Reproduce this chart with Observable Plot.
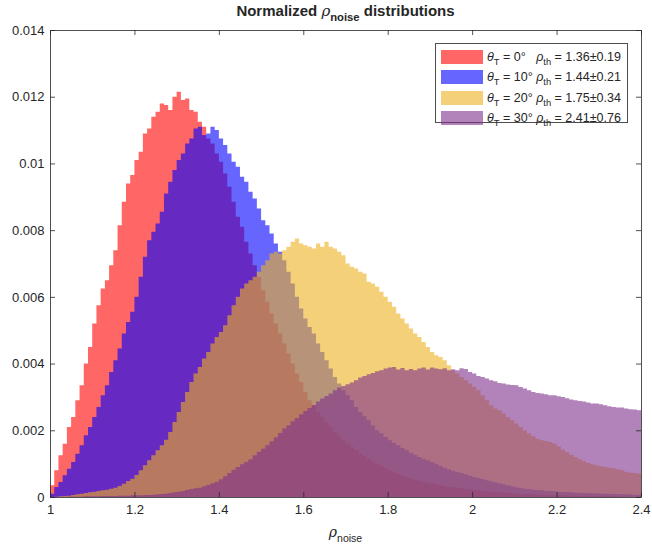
<!DOCTYPE html>
<html><head><meta charset="utf-8">
<script src="https://cdn.jsdelivr.net/npm/d3@7"></script>
<script src="https://cdn.jsdelivr.net/npm/@observablehq/plot@0.6"></script>
<style>
body{margin:0;background:#fff;font-family:"Liberation Sans",Arial,Helvetica,sans-serif;color:#262626;}
#wrap{position:relative;width:652px;height:547px;overflow:hidden;}
#title{position:relative;height:22px;}
#title span.t{position:absolute;left:50px;width:591px;top:2px;text-align:center;font-weight:bold;font-size:15px;white-space:nowrap;}
.gr{font-style:italic;font-weight:normal;font-family:"DejaVu Serif","Liberation Serif",serif;}
#legend .gr{font-family:"Liberation Sans",Arial,sans-serif;}
sub{font-size:75%;vertical-align:-0.45em;line-height:0;}
#legend{position:absolute;left:435px;top:43px;width:193px;height:80px;border:1px solid #4d4d4d;background:#fff;box-sizing:border-box;font-size:12.5px;}
#legend .row{position:absolute;left:5px;height:14px;white-space:nowrap;}
#legend .sw{position:absolute;left:0;top:0;width:42px;height:14px;}
#legend .tx{position:absolute;left:46px;top:-2px;line-height:18px;white-space:pre;}
#xlabel{position:absolute;left:50px;width:591px;top:524px;text-align:center;font-size:14px;}
</style></head>
<body>
<div id="wrap">
  <div id="title"><span class="t">Normalized <span class="gr">ρ</span><sub>noise</sub> distributions</span></div>
  <div id="chart"></div>
  <div id="legend"></div>
  <div id="xlabel"><span class="gr">ρ</span><sub>noise</sub></div>
</div>
<script>
// Histogram bins: left edge 1.00, width 0.01; values in units of 1e-3 (normalized counts)
const binStart = 1.00;
const binWidth = 0.01;
const valueUnit = 1e-3;

const theta0 = [0.35,0.8,1.25,1.6,2.1,2.4,2.9,3.35,4.0,4.5,
5.2,5.75,6.25,6.5,6.95,7.4,8.15,8.85,9.4,9.65,
10.1,10.35,10.9,11.05,11.4,11.55,11.8,11.75,11.6,12.0,
12.15,11.9,11.95,11.6,11.55,11.25,11.1,10.75,10.6,10.3,
10.05,9.7,9.3,8.85,8.4,8.1,7.65,7.3,6.95,6.6,
6.2,5.85,5.5,5.2,4.9,4.6,4.3,4.0,3.7,3.45,
3.15,2.9,2.75,2.55,2.4,2.25,2.1,1.95,1.85,1.72,
1.6,1.5,1.4,1.3,1.22,1.14,1.06,0.98,0.92,0.86,
0.8,0.74,0.69,0.64,0.6,0.56,0.52,0.49,0.46,0.43,
0.4,0.38,0.35,0.33,0.31,0.29,0.27,0.26,0.24,0.23,
0.21,0.2,0.18,0.17,0.16,0.15,0.14,0.13,0.12,0.11,
0.1,0.1,0.09,0.08,0.08,0.07,0.07,0.06,0.06,0.05,
0.05,0.05,0.04,0.04,0.04,0.03,0.03,0.03,0.03,0.02,
0.02,0.02,0.02,0.02,0.02,0.01,0.01,0.01,0.01,0.01];

const theta10 = [0.1,0.3,0.45,0.65,0.85,1.05,1.3,1.55,1.85,2.1,
2.4,2.7,3.05,3.35,3.75,4.1,4.45,4.9,5.25,5.55,
6.0,6.6,7.2,7.7,7.95,8.2,8.55,9.1,9.45,9.8,
10.1,10.3,10.6,10.75,11.05,11.1,10.85,10.9,11.1,11.0,
10.75,10.55,10.3,10.05,9.9,9.6,9.45,9.15,8.95,8.65,
8.3,8.15,7.9,7.6,7.35,7.1,6.75,6.4,6.0,5.65,
5.35,5.1,4.9,4.6,4.35,4.1,3.85,3.6,3.4,3.2,
3.05,2.9,2.7,2.55,2.42,2.3,2.15,2.0,1.9,1.8,
1.7,1.62,1.55,1.47,1.4,1.33,1.27,1.2,1.15,1.1,
1.05,1.0,0.94,0.88,0.83,0.79,0.75,0.72,0.68,0.64,
0.6,0.57,0.54,0.5,0.47,0.44,0.41,0.38,0.35,0.32,
0.29,0.27,0.25,0.24,0.22,0.21,0.2,0.19,0.18,0.17,
0.16,0.15,0.15,0.14,0.13,0.13,0.12,0.12,0.11,0.11,
0.1,0.1,0.1,0.09,0.09,0.08,0.08,0.08,0.07,0.07];

const theta20 = [0,0.01,0.02,0.03,0.04,0.06,0.08,0.1,0.12,0.14,
0.16,0.18,0.2,0.22,0.25,0.28,0.33,0.4,0.48,0.55,
0.66,0.8,0.95,1.1,1.25,1.4,1.55,1.72,1.95,2.25,
2.55,2.85,3.15,3.45,3.7,3.9,4.15,4.35,4.6,4.8,
4.95,5.15,5.45,5.75,6.0,6.25,6.4,6.5,6.6,6.75,
6.95,7.1,7.3,7.35,7.3,7.4,7.5,7.65,7.75,7.6,
7.55,7.5,7.45,7.6,7.5,7.65,7.5,7.45,7.35,7.25,
7.0,6.9,6.85,6.75,6.7,6.45,6.4,6.3,6.15,6.0,
5.85,5.7,5.5,5.35,5.2,5.05,4.9,4.8,4.65,4.5,
4.35,4.25,4.2,4.1,3.95,3.8,3.7,3.6,3.5,3.4,
3.3,3.2,3.05,2.9,2.75,2.65,2.6,2.5,2.4,2.3,
2.2,2.1,2.0,1.9,1.82,1.75,1.7,1.68,1.65,1.6,
1.52,1.42,1.35,1.27,1.2,1.13,1.07,1.02,0.98,0.95,
0.92,0.9,0.88,0.86,0.83,0.8,0.76,0.73,0.72,0.7];

const theta30 = [0,0,0,0,0.01,0.01,0.01,0.01,0.02,0.02,
0.02,0.02,0.03,0.03,0.03,0.03,0.04,0.04,0.04,0.05,
0.05,0.05,0.06,0.06,0.07,0.08,0.09,0.1,0.12,0.14,
0.16,0.18,0.21,0.24,0.26,0.28,0.32,0.36,0.41,0.46,
0.53,0.62,0.72,0.82,0.9,0.98,1.05,1.13,1.25,1.36,
1.45,1.55,1.67,1.79,1.92,2.05,2.15,2.27,2.37,2.48,
2.58,2.67,2.76,2.86,2.95,3.03,3.1,3.2,3.28,3.33,
3.38,3.43,3.5,3.58,3.63,3.68,3.72,3.77,3.8,3.85,
3.88,3.9,3.82,3.87,3.8,3.84,3.8,3.85,3.88,3.82,
3.88,3.85,3.83,3.86,3.8,3.83,3.8,3.86,3.84,3.75,
3.7,3.63,3.6,3.55,3.5,3.47,3.42,3.4,3.37,3.36,
3.35,3.3,3.25,3.2,3.15,3.12,3.1,3.08,3.05,3.05,
3.02,3.0,2.96,2.92,2.9,2.88,2.86,2.83,2.8,2.8,
2.78,2.75,2.72,2.7,2.68,2.68,2.65,2.63,2.62,2.6];

const seriesNames = ["0°","10°","20°","30°"];
const seriesColors = ["#FF0000","#0000FF","#EDB120","#7E2F8E"];
const rhoTh = ["1.36±0.19","1.44±0.21","1.75±0.34","2.41±0.76"];
const xTicks = [1,1.2,1.4,1.6,1.8,2,2.2,2.4];
const yTicks = [0,0.002,0.004,0.006,0.008,0.01,0.012,0.014];

const allSeries = [theta0, theta10, theta20, theta30];

function steps(vals){
  const pts = vals.map((v,i)=>({x:(binStart*100 + i*binWidth*100)/100, y:v*valueUnit}));
  pts.push({x:(binStart*100 + vals.length*binWidth*100)/100, y:vals[vals.length-1]*valueUnit});
  return pts;
}

const W = 652, H = 525, mL = 50, mR = 11, mT = 8, mB = 50;
const plotW = W - mL - mR, plotH = H - mT - mB, tickLen = 5;
const axisColor = "#262626";

const chart = Plot.plot({
  width: W, height: H,
  marginLeft: mL, marginRight: mR, marginTop: mT, marginBottom: mB,
  x: {domain: [1, 2.4]},
  y: {domain: [0, 0.014]},
  style: {fontFamily: '"Liberation Sans", Arial, sans-serif', fontSize: "13px", color: axisColor, background: "white"},
  marks: [
    ...allSeries.map((s,i)=>Plot.areaY(steps(s), {x:"x", y:"y", curve:"step-after", fill: seriesColors[i], fillOpacity: 0.6})),
    Plot.frame({stroke: axisColor, strokeWidth: 0.8}),
    Plot.tickX(xTicks, {x: d=>d, insetTop: plotH - tickLen, stroke: axisColor, strokeWidth: 0.8}),
    Plot.tickX(xTicks, {x: d=>d, insetBottom: plotH - tickLen, stroke: axisColor, strokeWidth: 0.8}),
    Plot.tickY(yTicks, {y: d=>d, insetRight: plotW - tickLen, stroke: axisColor, strokeWidth: 0.8}),
    Plot.tickY(yTicks, {y: d=>d, insetLeft: plotW - tickLen, stroke: axisColor, strokeWidth: 0.8}),
    Plot.axisX(xTicks, {tickSize: 0, tickPadding: 7, label: null, tickFormat: d=>String(d)}),
    Plot.axisY(yTicks, {tickSize: 0, tickPadding: 6, label: null, tickFormat: d=>String(d)})
  ]
});
document.getElementById("chart").appendChild(chart);

// legend
const leg = document.getElementById("legend");
seriesNames.forEach((n,i)=>{
  const row = document.createElement("div");
  row.className = "row";
  row.style.top = (6 + i*20.3) + "px";
  const sw = document.createElement("div");
  sw.className = "sw";
  sw.style.background = seriesColors[i];
  sw.style.opacity = 0.6;
  const tx = document.createElement("div");
  tx.className = "tx";
  const gap = i === 0 ? "   " : " ";
  tx.innerHTML = '<span class="gr">θ</span><sub>T</sub> = ' + n + gap + '<span class="gr">ρ</span><sub>th</sub> = ' + rhoTh[i];
  row.appendChild(sw); row.appendChild(tx);
  leg.appendChild(row);
});
</script>
</body></html>
